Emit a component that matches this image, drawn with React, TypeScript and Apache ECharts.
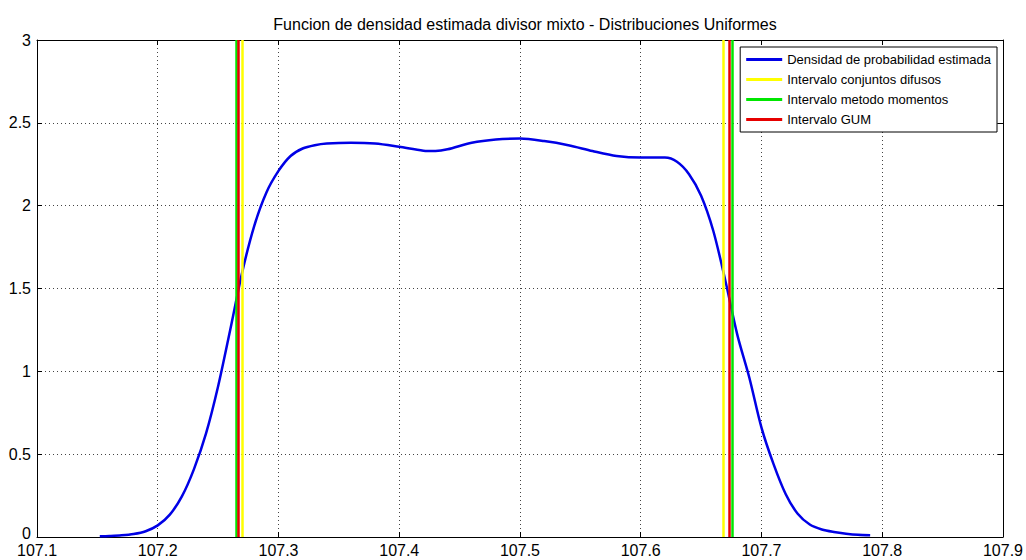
import React, { useEffect, useRef } from "react";
import * as echarts from "echarts";

const titleText = "Funcion de densidad estimada divisor mixto - Distribuciones Uniformes";

// Estimated density curve (x, density)
const densityX = [
  107.152, 107.16, 107.17, 107.18, 107.19, 107.2, 107.21, 107.22, 107.23, 107.24,
  107.25, 107.26, 107.27, 107.28, 107.29, 107.3, 107.31, 107.32, 107.33, 107.34,
  107.36, 107.38, 107.4, 107.42, 107.43, 107.44, 107.46, 107.48, 107.5, 107.52,
  107.54, 107.56, 107.58, 107.6, 107.62, 107.63, 107.64, 107.65, 107.66, 107.67,
  107.68, 107.69, 107.7, 107.71, 107.72, 107.73, 107.74, 107.75, 107.76, 107.77,
  107.78, 107.79,
];
const densityY = [
  0.004, 0.006, 0.01, 0.018, 0.035, 0.07, 0.135, 0.245, 0.41, 0.625,
  0.91, 1.25, 1.6, 1.88, 2.08, 2.21, 2.3, 2.345, 2.365, 2.375,
  2.38, 2.375, 2.355, 2.332, 2.33, 2.34, 2.38, 2.4, 2.405, 2.39,
  2.365, 2.33, 2.3, 2.29, 2.29, 2.265, 2.19, 2.06, 1.85, 1.55,
  1.22, 0.96, 0.66, 0.44, 0.26, 0.14, 0.075, 0.045, 0.03, 0.02,
  0.013, 0.01,
];

// Interval limits [lower, upper]
const fuzzyInterval = [107.2703, 107.6685];
const momentsInterval = [107.2651, 107.6758];
const gumInterval = [107.2666, 107.6733];

const seriesNames = [
  "Densidad de probabilidad estimada",
  "Intervalo conjuntos difusos",
  "Intervalo metodo momentos",
  "Intervalo GUM",
];
const seriesColors = ["#0000e6", "#ffff00", "#00e600", "#e60000"];

const xTicks = [107.1, 107.9, 0.1];
const yTicks = [0, 3, 0.5];

const FONT = "Liberation Sans";

function intervalSeries(name: string, color: string, bounds: number[]) {
  return {
    name,
    type: "line",
    data: [[bounds[0], 0]],
    showSymbol: false,
    symbol: "none",
    color,
    lineStyle: { color, width: 2.5 },
    markLine: {
      silent: true,
      precision: 5,
      symbol: ["none", "none"],
      label: { show: false },
      lineStyle: { color, width: 2.5, type: "solid" },
      data: bounds.map((b) => ({ xAxis: b })),
    },
  };
}

export default function App() {
  const ref = useRef<HTMLDivElement>(null);

  useEffect(() => {
    if (!ref.current) return;
    const chart = echarts.init(ref.current, null, { renderer: "svg" });
    const grid = { left: 37, right: 23, top: 40, bottom: 23 };
    const splitLine = { show: true, lineStyle: { color: "#444", width: 1, type: [1, 3] } };
    const frameAxis = {
      axisLine: { show: true, onZero: false, lineStyle: { color: "#000", width: 1 } },
      axisTick: { show: true, inside: true, length: 5, lineStyle: { color: "#000" } },
    };
    chart.setOption({
      animation: false,
      backgroundColor: "#fff",
      title: {
        text: titleText,
        left: 520,
        textAlign: "center",
        top: 11,
        textStyle: { fontFamily: FONT, fontSize: 16, fontWeight: "normal", color: "#000" },
      },
      legend: {
        orient: "vertical",
        right: 29,
        top: 47,
        data: seriesNames,
        icon: "rect",
        itemWidth: 36,
        itemHeight: 3,
        itemGap: 7,
        padding: [6, 6, 6, 6],
        borderColor: "#000",
        borderWidth: 1,
        backgroundColor: "#fff",
        textStyle: { fontFamily: FONT, fontSize: 13, color: "#000" },
      },
      grid: { ...grid, containLabel: false },
      xAxis: [
        {
          type: "value",
          min: xTicks[0],
          max: xTicks[1],
          interval: xTicks[2],
          ...frameAxis,
          axisLabel: {
            fontFamily: FONT,
            fontSize: 16,
            color: "#000",
            margin: 5,
            formatter: (v: number) => v.toFixed(1),
          },
          splitLine,
        },
        {
          type: "value",
          position: "top",
          min: xTicks[0],
          max: xTicks[1],
          interval: xTicks[2],
          ...frameAxis,
          axisLabel: { show: false },
          splitLine: { show: false },
        },
      ],
      yAxis: [
        {
          type: "value",
          min: yTicks[0],
          max: yTicks[1],
          interval: yTicks[2],
          ...frameAxis,
          axisLabel: {
            fontFamily: FONT,
            fontSize: 16,
            color: "#000",
            margin: 6,
            formatter: (v: number) => (v === 0 ? "{z|0}" : String(v)),
            rich: {
              z: { fontFamily: FONT, fontSize: 16, color: "#000", padding: [0, 0, 8, 0] },
            },
          },
          splitLine,
        },
        {
          type: "value",
          position: "right",
          min: yTicks[0],
          max: yTicks[1],
          interval: yTicks[2],
          ...frameAxis,
          axisLabel: { show: false },
          splitLine: { show: false },
        },
      ],
      series: [
        {
          name: seriesNames[0],
          type: "line",
          data: densityX.map((x, i) => [x, densityY[i]]),
          smooth: 0.3,
          showSymbol: false,
          symbol: "none",
          color: seriesColors[0],
          lineStyle: { color: seriesColors[0], width: 2.5 },
        },
        intervalSeries(seriesNames[1], seriesColors[1], fuzzyInterval),
        intervalSeries(seriesNames[2], seriesColors[2], momentsInterval),
        intervalSeries(seriesNames[3], seriesColors[3], gumInterval),
      ],
    });
    return () => chart.dispose();
  }, []);

  return (
    <div
      ref={ref}
      style={{ position: "fixed", left: 0, top: 0, width: 1026, height: 560, background: "#fff" }}
    />
  );
}
